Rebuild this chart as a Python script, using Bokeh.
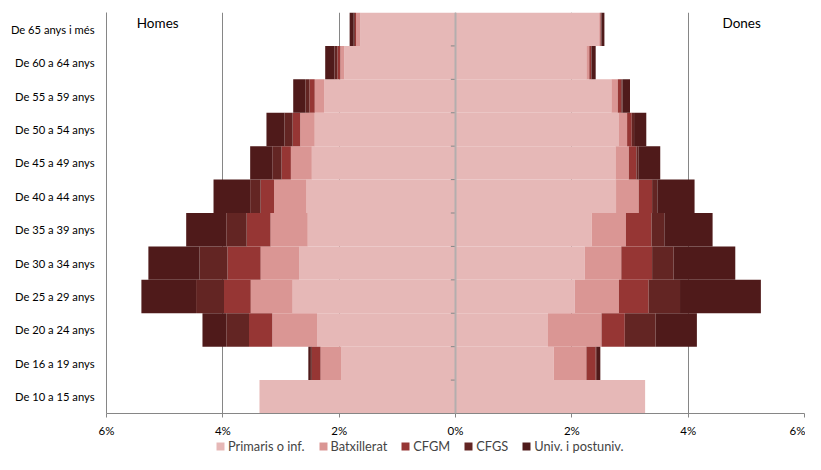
from bokeh.plotting import figure
from bokeh.layouts import column
from bokeh.models import (ColumnDataSource, Label, Legend, LegendItem, FixedTicker,
                          Span, CustomJSTickFormatter)
from bokeh.embed import file_html
from bokeh.resources import INLINE

# Age groups, bottom to top
categories = ["De 10 a 15 anys", "De 16 a 19 anys", "De 20 a 24 anys", "De 25 a 29 anys",
              "De 30 a 34 anys", "De 35 a 39 anys", "De 40 a 44 anys", "De 45 a 49 anys",
              "De 50 a 54 anys", "De 55 a 59 anys", "De 60 a 64 anys", "De 65 anys i més"]
series = ["Primaris o inf.", "Batxillerat", "CFGM", "CFGS", "Univ. i postuniv."]
colors = ["#E6B8B7", "#DA9694", "#963634", "#632523", "#4F1A1A"]

# Homes (% of population)
homes_primaris = [3.37, 1.96, 2.38, 2.80, 2.69, 2.54, 2.57, 2.47, 2.42, 2.26, 1.91, 1.64]
homes_batx     = [0.00, 0.36, 0.77, 0.72, 0.66, 0.64, 0.55, 0.36, 0.25, 0.16, 0.07, 0.07]
homes_cfgm     = [0.00, 0.15, 0.40, 0.46, 0.57, 0.41, 0.23, 0.16, 0.13, 0.09, 0.05, 0.02]
homes_cfgs     = [0.00, 0.03, 0.39, 0.48, 0.48, 0.35, 0.18, 0.16, 0.14, 0.07, 0.05, 0.02]
homes_univ     = [0.00, 0.03, 0.41, 0.94, 0.88, 0.69, 0.63, 0.38, 0.31, 0.21, 0.16, 0.07]

# Dones (% of population)
dones_primaris = [3.26, 1.69, 1.59, 2.05, 2.22, 2.34, 2.76, 2.75, 2.81, 2.68, 2.25, 2.47]
dones_batx     = [0.00, 0.56, 0.92, 0.76, 0.63, 0.59, 0.39, 0.23, 0.14, 0.11, 0.05, 0.02]
dones_cfgm     = [0.00, 0.16, 0.40, 0.51, 0.53, 0.44, 0.23, 0.13, 0.08, 0.06, 0.03, 0.01]
dones_cfgs     = [0.00, 0.02, 0.53, 0.54, 0.37, 0.22, 0.09, 0.04, 0.04, 0.02, 0.01, 0.01]
dones_univ     = [0.00, 0.06, 0.71, 1.39, 1.06, 0.83, 0.64, 0.37, 0.21, 0.13, 0.07, 0.05]

x_ticks = [-6, -4, -2, 0, 2, 4, 6]

FONT = "Lato"
GREY = "#868686"

ys = list(range(len(categories)))
keys = ["p", "b", "cm", "cs", "u"]
homes = [homes_primaris, homes_batx, homes_cfgm, homes_cfgs, homes_univ]
dones = [dones_primaris, dones_batx, dones_cfgm, dones_cfgs, dones_univ]

src_h = ColumnDataSource(dict(y=ys, **{k: [-v for v in arr] for k, arr in zip(keys, homes)}))
src_d = ColumnDataSource(dict(y=ys, **{k: list(arr) for k, arr in zip(keys, dones)}))

p = figure(width=805, height=439, output_backend="svg", toolbar_location=None,
           x_range=(-6, 6), y_range=(-0.5, len(categories) - 0.5),
           min_border_left=106, min_border_right=1, min_border_top=12, min_border_bottom=25)
p.outline_line_color = None
p.background_fill_color = "white"

p.hbar_stack(keys, y="y", height=1.0, color=colors, source=src_h, line_color=None)
p.hbar_stack(keys, y="y", height=1.0, color=colors, source=src_d, line_color=None)

# center axis
p.add_layout(Span(location=0, dimension="height", line_color="#B4AEAE", line_width=2))
bounds = [i + 0.5 for i in range(len(categories) - 1)]
p.segment(x0=[0] * len(bounds), x1=[-0.08] * len(bounds), y0=bounds, y1=bounds,
          line_color=GREY, line_width=1)

# axes
p.xaxis.ticker = FixedTicker(ticks=x_ticks)
p.xaxis.formatter = CustomJSTickFormatter(code="return Math.abs(tick) + '%';")
p.xaxis.axis_line_color = GREY
p.xaxis.major_tick_line_color = GREY
p.xaxis.major_tick_out = 4
p.xaxis.major_tick_in = 0
p.xaxis.minor_tick_line_color = None
p.xaxis.major_label_standoff = 6
p.xaxis.major_label_text_font = FONT
p.xaxis.major_label_text_font_size = "11.5px"
p.xaxis.major_label_text_color = "#000000"

p.yaxis.ticker = FixedTicker(ticks=ys)
p.yaxis.major_label_overrides = {i: c for i, c in enumerate(categories)}
p.yaxis.axis_line_color = GREY
p.yaxis.major_tick_line_color = None
p.yaxis.minor_tick_line_color = None
p.yaxis.major_label_standoff = 6
p.yaxis.major_label_text_font = FONT
p.yaxis.major_label_text_font_size = "11.2px"
p.yaxis.major_label_text_color = "#000000"

p.xgrid.ticker = FixedTicker(ticks=x_ticks)
p.xgrid.grid_line_color = GREY
p.ygrid.grid_line_color = None

p.add_layout(Label(x=-5.12, y=11.2, text="Homes", text_align="center", text_baseline="middle",
                   text_font=FONT, text_font_size="13.5px", text_color="#000000"))
p.add_layout(Label(x=4.92, y=11.2, text="Dones", text_align="center", text_baseline="middle",
                   text_font=FONT, text_font_size="13.5px", text_color="#000000"))

# legend strip below the chart (zero-width proxy bars carry the legend swatches)
lg = figure(width=805, height=15, output_backend="svg", toolbar_location=None,
            x_range=(0, 1), y_range=(0, 1), min_border=0)
lg.axis.visible = False
lg.grid.visible = False
lg.outline_line_color = None
dummies = [lg.hbar(y=[0], left=[0], right=[0], height=0, fill_color=c, line_color=None)
           for c in colors]
legend = Legend(items=[LegendItem(label=s, renderers=[r]) for s, r in zip(series, dummies)],
                orientation="horizontal", location=(109, 0), border_line_color=None,
                background_fill_alpha=0, padding=1, margin=0, spacing=13,
                glyph_width=10, glyph_height=10, label_standoff=3,
                label_text_font=FONT, label_text_font_size="12.8px", label_height=13)
lg.add_layout(legend, "center")

layout = column(p, lg, spacing=0)
open("out.html", "w").write(file_html(layout, INLINE))
